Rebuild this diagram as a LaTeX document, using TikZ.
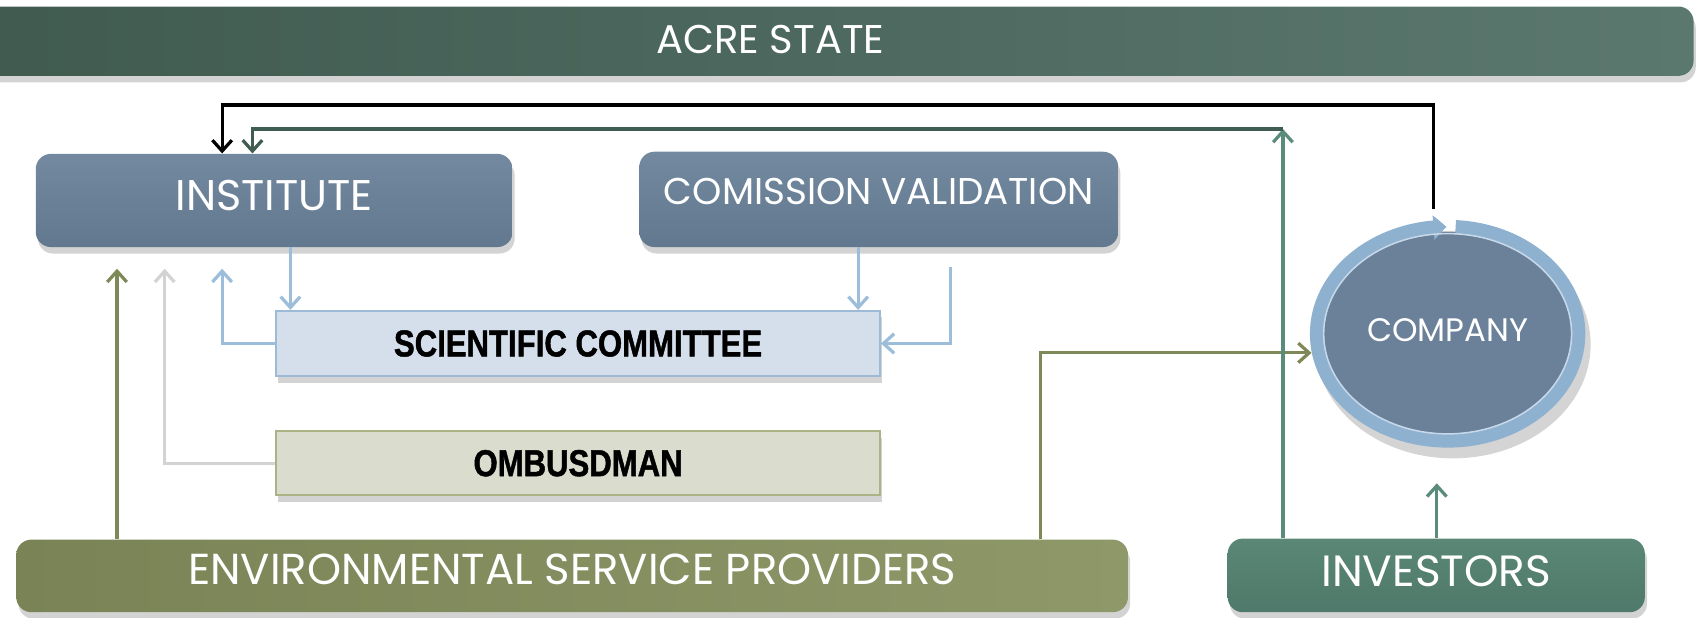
\documentclass[tikz,border=0pt]{standalone}
\usepackage{fontspec}
\setmainfont{Poppins}
\newfontfamily\condbold[FakeStretch=0.83,BoldFeatures={FakeBold=1.2}]{Liberation Sans}
\usetikzlibrary{arrows.meta,bending,shapes.geometric,shadows,calc}
\definecolor{acreL}{HTML}{3E584D}
\definecolor{acreR}{HTML}{5B786F}
\definecolor{slateT}{HTML}{7289A0}
\definecolor{slateB}{HTML}{62788E}
\definecolor{scFill}{HTML}{D5DFEB}
\definecolor{scDraw}{HTML}{9DBAD7}
\definecolor{ombFill}{HTML}{DADCCE}
\definecolor{ombDraw}{HTML}{A9B386}
\definecolor{espL}{HTML}{7A8355}
\definecolor{espR}{HTML}{8F9869}
\definecolor{invT}{HTML}{5A8776}
\definecolor{invB}{HTML}{4F796A}
\definecolor{ringC}{HTML}{8FB1D0}
\definecolor{compFill}{HTML}{6A8199}
\definecolor{lblue}{HTML}{9CBEDB}
\definecolor{lgrey}{HTML}{D3D3D3}
\definecolor{olive}{HTML}{7E8958}
\definecolor{teal}{HTML}{5B8B7B}
\definecolor{dkgreen}{HTML}{3F5D51}
\begin{document}
\begin{tikzpicture}[x=0.5pt,y=-0.5pt,
  shad/.style={drop shadow={shadow xshift=1pt,shadow yshift=-3pt,opacity=0.35}},
  darkbox/.style={shad,rounded corners=7pt,top color=slateT,bottom color=slateB,draw=none,text=white,inner sep=0pt},
  lightbox/.style={shad,rectangle,line width=1pt,inner sep=0pt,font=\condbold\bfseries\fontsize{17.3}{19}\selectfont},
  arrbase/.style={line width=1.5pt,-{Straight Barb[length=5pt,width=9pt]}},
  arrB/.style={arrbase,draw=lblue},
  arrG/.style={arrbase,draw=lgrey},
  arrO/.style={arrbase,draw=olive},
  arrT/.style={arrbase,draw=teal},
  arrD/.style={arrbase,draw=dkgreen},
  arrK/.style={arrbase,draw=black}
]
\useasboundingbox (0,0) rectangle (1568,570);

% top bar
\node[shad,rounded corners=7pt,left color=acreL,right color=acreR,text=white,
      minimum width=852pt,minimum height=32pt,inner sep=0pt,text depth=2pt,
      font=\fontsize{18.5}{21}\selectfont] (acre) at (711,38) {ACRE STATE};

% boxes
\node[darkbox,minimum width=220pt,minimum height=43pt,text depth=5pt,font=\fontsize{19.8}{22}\selectfont] (inst) at (253,185) {INSTITUTE};
\node[darkbox,minimum width=221pt,minimum height=44pt,text depth=7pt,font=\fontsize{17.2}{20}\selectfont] (cv) at (811,184) {COMISSION VALIDATION};
\node[lightbox,fill=scFill,draw=scDraw,minimum width=278.5pt,minimum height=30pt] (sc) at (533.5,317) {SCIENTIFIC COMMITTEE};
\node[lightbox,fill=ombFill,draw=ombDraw,minimum width=278.5pt,minimum height=29.5pt] (omb) at (533.5,427.5) {OMBUSDMAN};
\node[shad,rounded corners=7pt,left color=espL,right color=espR,text=white,
      minimum width=513pt,minimum height=33.5pt,inner sep=0pt,text depth=6pt,
      font=\fontsize{20}{23}\selectfont] (esp) at (528,531.5) {ENVIRONMENTAL SERVICE PROVIDERS};
\node[shad,rounded corners=7pt,top color=invT,bottom color=invB,text=white,
      minimum width=192.5pt,minimum height=34pt,inner sep=0pt,text depth=4pt,
      font=\fontsize{20.2}{23}\selectfont] (inv) at (1325.5,531) {INVESTORS};

% company
\coordinate (cc) at (1336,308);
\fill[gray!75,opacity=.45] ($(cc)+(5,10)$) ellipse [x radius=63.5pt,y radius=52.5pt];
\fill[compFill] (cc) ellipse [x radius=58pt,y radius=47pt];
\begin{scope}[shift={(cc)},x=1pt,y=1pt]
  \draw[ringC,line width=6.5pt,-{Triangle[length=6pt,width=11pt,bend]}]
    ({60.3*cos(86.5)},{49.3*sin(86.5)}) arc[start angle=86.5,end angle=-269.5,x radius=60.3,y radius=49.3];
\end{scope}
\draw[white!50!ringC,line width=0.7pt] (cc) ellipse [x radius=57.2pt,y radius=46.2pt];
\node[ellipse,minimum width=127pt,minimum height=105pt,inner sep=0pt,text=white,text depth=3pt,
      font=\fontsize{15}{17}\selectfont] (comp) at (cc) {COMPANY};

% helper coordinates
\coordinate (c1) at (268,0);
\coordinate (c2) at (205,248);
\coordinate (c3) at (792,0);
\coordinate (c4) at (877,246);
\coordinate (c5) at (152,248);
\coordinate (c6) at (108,248);
\coordinate (c7) at (960,0);
\coordinate (c8) at (1184,119);
\coordinate (c9) at (233,0);
\coordinate (c10) at (1326,446);
\coordinate (c11) at (1323,193);
\coordinate (c12) at (1323,97);
\coordinate (c13) at (205,97);

% connectors
\draw[arrB] (c1 |- inst.south) -- (c1 |- sc.north);
\draw[arrB] (sc.west) -| (c2);
\draw[arrB] (c3 |- cv.south) -- (c3 |- sc.north);
\draw[arrB] (c4) |- (sc.east);
\draw[arrG] (omb.west) -| (c5);
\draw[arrO] (c6 |- esp.north) -- (c6);
\draw[arrO] (c7 |- esp.north) |- (comp.188);
\draw[arrT] (c8 |- inv.north) -- (c8);
\draw[arrD] (c8) -| (c9 |- inst.north);
\draw[arrT] (c10 |- inv.north) -- (c10);
\draw[arrK] (c11) -- (c12) -| (c13 |- inst.north);
\end{tikzpicture}
\end{document}
